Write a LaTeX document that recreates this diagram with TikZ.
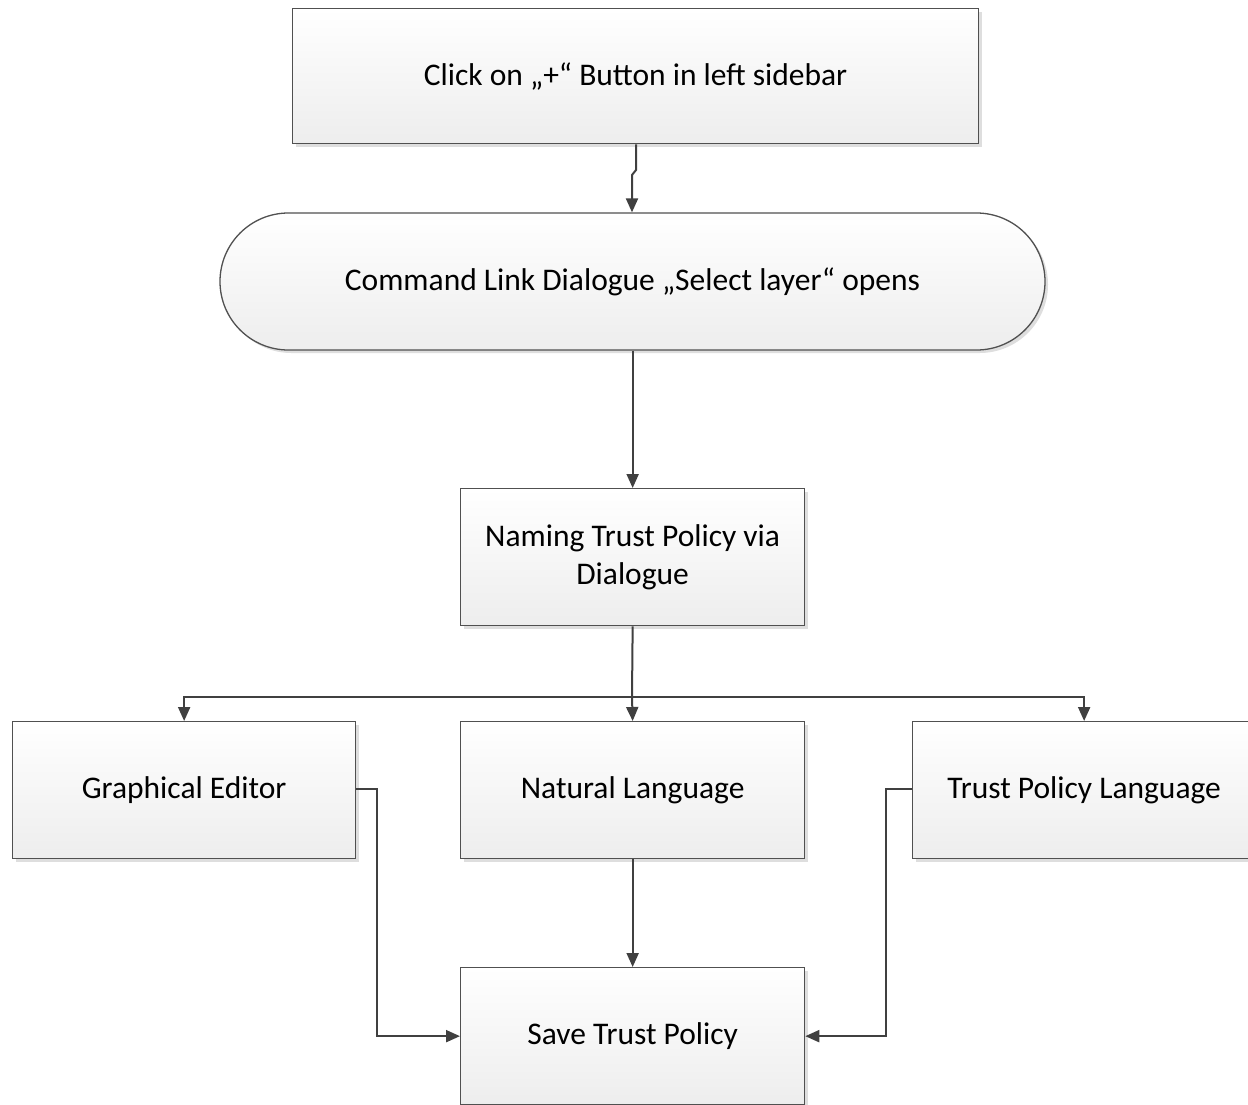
\documentclass[tikz,border=0pt]{standalone}
\usepackage{fontspec}
\setmainfont{Carlito}
\usetikzlibrary{shadows,arrows.meta,shapes.misc}
\definecolor{linec}{HTML}{404040}
\definecolor{boxline}{HTML}{505050}
\tikzset{
  box/.style={draw=boxline, line width=1.3pt, top color=white, bottom color=black!7,
    drop shadow={shadow xshift=3pt, shadow yshift=-3pt, fill=black!13, opacity=1},
    minimum width=343pt, minimum height=137pt, inner sep=0pt, align=center,
    font=\fontsize{31.5}{38}\selectfont, anchor=north west},
  term/.style={box, rounded rectangle, minimum width=825pt, anchor=center},
  conn/.style={draw=linec, line width=2pt, -{Triangle[length=14pt,width=12pt]}},
  plain/.style={draw=linec, line width=2pt}
}
\begin{document}
\begin{tikzpicture}[x=1pt,y=1pt]
\useasboundingbox (0,0) rectangle (1248,-1104);
\fill[white] (0,0) rectangle (1248,-1104);
\node[box, minimum width=686pt, minimum height=135pt] (click) at (292,-8) {Click on „+“ Button in left sidebar};
\node[term] (cmd) at (632.5,-281.5) {Command Link Dialogue „Select layer“ opens};
\node[box, minimum width=344pt] (name) at (460,-488) {Naming Trust Policy via\\Dialogue};
\node[box] (ge) at (12,-721) {Graphical Editor};
\node[box, minimum width=344pt] (nl) at (460,-721) {Natural Language};
\node[box] (tpl) at (912,-721) {Trust Policy Language};
\node[box, minimum width=344pt] (save) at (460,-967) {Save Trust Policy};
\coordinate (j1) at (636,-170);
\coordinate (j2) at (632,-175);
\draw[conn] (click.south -| j1) -- (j1) -- (j2) -- (j2 |- cmd.north);
\draw[conn] (cmd.south -| name.north) -- (name.north);
\coordinate (split) at (632,-697);
\draw[plain] (name.south) -- (split);
\draw[conn] (split) -| (ge.north);
\draw[conn] (split) -| (tpl.north);
\draw[conn] (split) -- (nl.north);
\draw[conn] (nl.south) -- (save.north);
\coordinate (gx) at (377,-789);
\coordinate (tx) at (886,-789);
\draw[conn] (ge.east |- gx) -- (gx) |- (save.west);
\draw[conn] (tpl.west |- tx) -- (tx) |- (save.east);
\end{tikzpicture}
\end{document}
